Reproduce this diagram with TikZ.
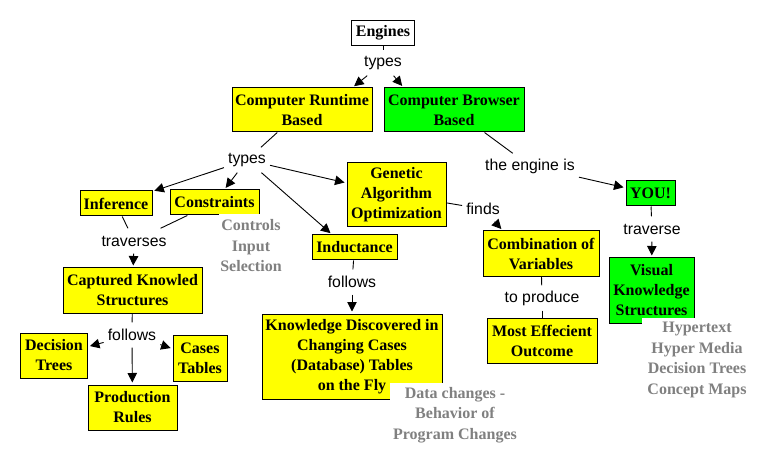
\documentclass[tikz,border=0pt]{standalone}
\usepackage{fontspec}
\setmainfont{Liberation Serif}
\setsansfont{Liberation Sans}
\usetikzlibrary{arrows.meta}
\definecolor{cyel}{RGB}{255,255,0}
\definecolor{cgrn}{RGB}{0,255,0}
\definecolor{cgry}{RGB}{128,128,128}
\begin{document}
\begin{tikzpicture}[x=1pt,y=-1pt,
 concept/.style={draw=black,line width=1pt,inner sep=0pt,align=center,font=\fontsize{16}{20}\selectfont\bfseries},
 cy/.style={concept,fill=cyel},
 cg/.style={concept,fill=cgrn},
 lbl/.style={font=\sffamily\fontsize{15.8}{19}\selectfont,inner xsep=4pt,inner ysep=0pt,minimum height=25pt},
 note/.style={fill=white,inner sep=0pt,align=center,text=cgry,font=\fontsize{16}{20.5}\selectfont\bfseries},
 ln/.style={line width=0.9pt},
 arr/.style={ln,-{Triangle[length=9.5pt,width=9.5pt]},shorten >=2pt}]
\fill[white] (0,0) rectangle (772,468);
\useasboundingbox (0,0) rectangle (772,468);

% concepts
\node[concept,fill=white,minimum width=63pt,minimum height=25pt] (eng) at (383,33) {Engines};
\node[cy,minimum width=140pt,minimum height=44pt] (runtime) at (302,110) {Computer Runtime\\Based};
\node[cg,minimum width=140pt,minimum height=44pt] (browser) at (454,110) {Computer Browser\\Based};
\node[cy,minimum width=72pt,minimum height=25pt] (inference) at (116,203.5) {Inference};
\node[cy,minimum width=89pt,minimum height=25pt] (constraints) at (214.5,202.5) {Constraints};
\node[cy,minimum width=99pt,minimum height=64pt] (genetic) at (396.5,194.5) {Genetic\\Algorithm\\Optimization};
\node[cy,minimum width=85pt,minimum height=25pt] (inductance) at (354.5,247.5) {Inductance};
\node[cy,minimum width=180pt,minimum height=85pt] (knowledge) at (352,356.5) {Knowledge Discovered in\\Changing Cases\\(Database) Tables\\on the Fly};
\node[cg,minimum width=49pt,minimum height=25pt] (you) at (650.5,193.5) {YOU!};
\node[cy,minimum width=116pt,minimum height=45pt] (combination) at (541,253.5) {Combination of\\Variables};
\node[cy,minimum width=110pt,minimum height=45pt] (outcome) at (542,340.5) {Most Effecient\\Outcome};
\node[cg,minimum width=85pt,minimum height=65pt] (visual) at (651.5,290.5) {Visual\\Knowledge\\Structures};
\node[cy,minimum width=139pt,minimum height=45pt] (captured) at (132.5,290.5) {Captured Knowled\\Structures};
\node[cy,minimum width=67pt,minimum height=45pt] (dtrees) at (54,355.5) {Decision\\Trees};
\node[cy,minimum width=54pt,minimum height=46pt] (cases) at (200,358) {Cases\\Tables};
\node[cy,minimum width=89pt,minimum height=45pt] (prod) at (132.5,407.5) {Production\\Rules};

% linking phrases
\node[lbl] (t1) at (383,63) {types};
\node[lbl] (t2) at (247,160) {types};
\node[lbl] (engis) at (530,166) {the engine is};
\node[lbl] (traverse) at (652,229) {traverse};
\node[lbl] (finds) at (483,209) {finds};
\node[lbl] (toproduce) at (542,298) {to produce};
\node[lbl] (follows1) at (352,282) {follows};
\node[lbl] (traverses) at (134,241) {traverses};
\node[lbl] (follows2) at (132,335) {follows};

% connectors
\draw[ln] (eng) -- (t1);
\draw[arr] (t1) -- (runtime.24);
\draw[arr] (t1) -- (browser.156);
\draw[ln] (runtime) -- (t2);
\draw[arr] (t2) -- (inference);
\draw[arr] (t2) -- (constraints);
\draw[arr] (t2) -- (genetic);
\draw[arr] (t2) -- (inductance.150);
\draw[ln] (browser) -- (engis);
\draw[arr] (engis) -- (you);
\draw[ln] (you) -- (traverse);
\draw[arr] (traverse) -- (visual);
\draw[ln] (genetic) -- (finds);
\draw[arr] (finds) -- (combination.149);
\draw[ln] (combination) -- (toproduce);
\draw[ln] (toproduce) -- (outcome);
\draw[ln] (inductance) -- (follows1);
\draw[arr] (follows1) -- (knowledge);
\draw[ln] (inference) -- (traverses);
\draw[ln] (constraints) -- (traverses);
\draw[arr] (traverses) -- (captured);
\draw[ln] (captured) -- (follows2);
\draw[arr] (follows2) -- (dtrees);
\draw[arr] (follows2) -- (cases);
\draw[arr] (follows2) -- (prod);

% notes
\node[note,minimum width=64pt,minimum height=64pt] (controls) at (251,246) {Controls\\Input\\Selection};
\node[note,minimum width=130pt,minimum height=64pt] (datach) at (455,415) {Data changes -\\Behavior of\\Program Changes};
\node[note,minimum width=110pt,minimum height=84pt] (hyper) at (697,360) {Hypertext\\Hyper Media\\Decision Trees\\Concept Maps};
\end{tikzpicture}
\end{document}
